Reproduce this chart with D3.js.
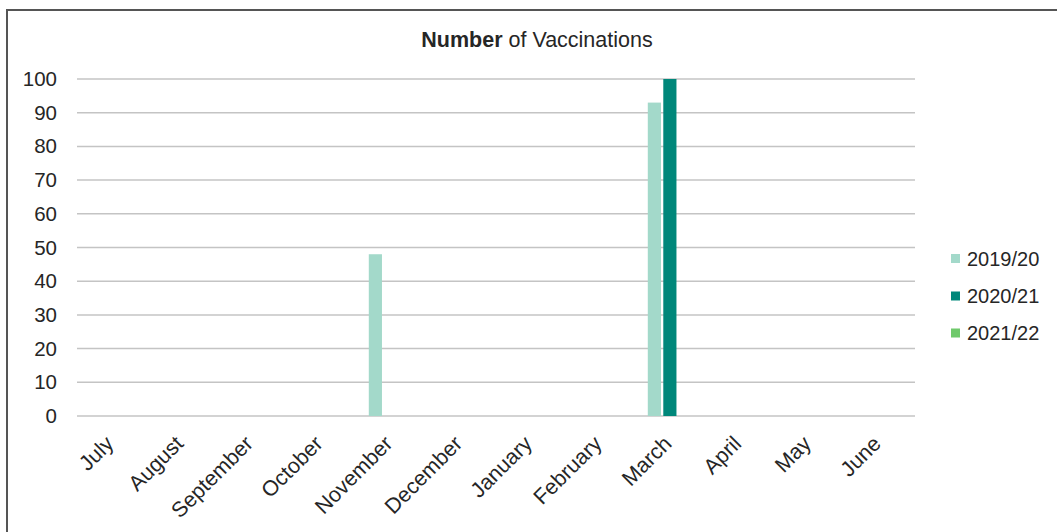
<!DOCTYPE html>
<html>
<head>
<meta charset="utf-8">
<script src="https://cdn.jsdelivr.net/npm/d3@7"></script>
<style>
  html, body { margin: 0; padding: 0; background: #fff; }
  svg { display: block; font-family: "Liberation Sans", Arial, sans-serif; }
</style>
</head>
<body>
<svg id="chart" width="1057" height="532"></svg>
<script>
const months = ["July","August","September","October","November","December","January","February","March","April","May","June"];
const seriesNames = ["2019/20","2020/21","2021/22"];
const values2019 = [0,0,0,0,48,0,0,0,93,0,0,0];
const values2020 = [0,0,0,0,0,0,0,0,100,0,0,0];
const values2021 = [0,0,0,0,0,0,0,0,0,0,0,0];
const seriesColors = ["#a3d9ca","#00877a","#6fc96b"];
const yTicks = [0,10,20,30,40,50,60,70,80,90,100];

const seriesValues = [values2019, values2020, values2021];
const svg = d3.select("#chart");
const textColor = "#262626";

// frame
svg.append("rect").attr("x",7).attr("y",10).attr("width",1070).attr("height",540)
  .attr("fill","none").attr("stroke","#555").attr("stroke-width",2);

const x = d3.scaleBand().domain(months).range([77, 914]).paddingInner(1/3).paddingOuter(1/6);
const xSub = d3.scaleBand().domain(seriesNames).range([0, x.bandwidth()]).paddingInner(0.15).paddingOuter(0.075);
const y = d3.scaleLinear().domain([0,100]).range([416, 79]);

// gridlines
svg.append("g").selectAll("line").data(yTicks).join("line")
  .attr("x1",77).attr("x2",915)
  .attr("y1",d=>y(d)).attr("y2",d=>y(d))
  .attr("stroke","#c4c4c4").attr("stroke-width",1.5);

// y labels
svg.append("g").selectAll("text").data(yTicks).join("text")
  .attr("x",57).attr("y",d=>y(d)+7)
  .attr("text-anchor","end").attr("font-size",20.5).attr("fill",textColor)
  .text(d=>d);

// bars
const data = [];
months.forEach((m,i)=>{
  seriesNames.forEach((s,j)=>{
    data.push({month:m, series:s, value:seriesValues[j][i], color:seriesColors[j]});
  });
});
svg.append("g").selectAll("rect").data(data.filter(d=>d.value>0)).join("rect")
  .attr("x",d=>x(d.month)+xSub(d.series))
  .attr("width",xSub.bandwidth())
  .attr("y",d=>y(d.value))
  .attr("height",d=>y(0)-y(d.value))
  .attr("fill",d=>d.color);

// x labels
svg.append("g").selectAll("text").data(months).join("text")
  .attr("transform",d=>`translate(${x(d)+x.bandwidth()/2+3},${445}) rotate(-45)`)
  .attr("text-anchor","end").attr("font-size",21.5).attr("fill",textColor)
  .text(d=>d);

// title
const title = svg.append("text").attr("x",537).attr("y",47).attr("text-anchor","middle")
  .attr("font-size",21.5).attr("fill",textColor);
title.append("tspan").attr("font-weight","bold").text("Number");
title.append("tspan").text(" of Vaccinations");

// legend
const legendY = [258.5, 296, 333];
const lg = svg.append("g").selectAll("g").data(seriesNames).join("g")
  .attr("transform",(d,i)=>`translate(951,${legendY[i]})`);
lg.append("rect").attr("x",0).attr("y",-4.5).attr("width",9).attr("height",9)
  .attr("fill",(d,i)=>seriesColors[i]);
lg.append("text").attr("x",16).attr("y",7).attr("font-size",20).attr("fill",textColor).text(d=>d);
</script>
</body>
</html>
